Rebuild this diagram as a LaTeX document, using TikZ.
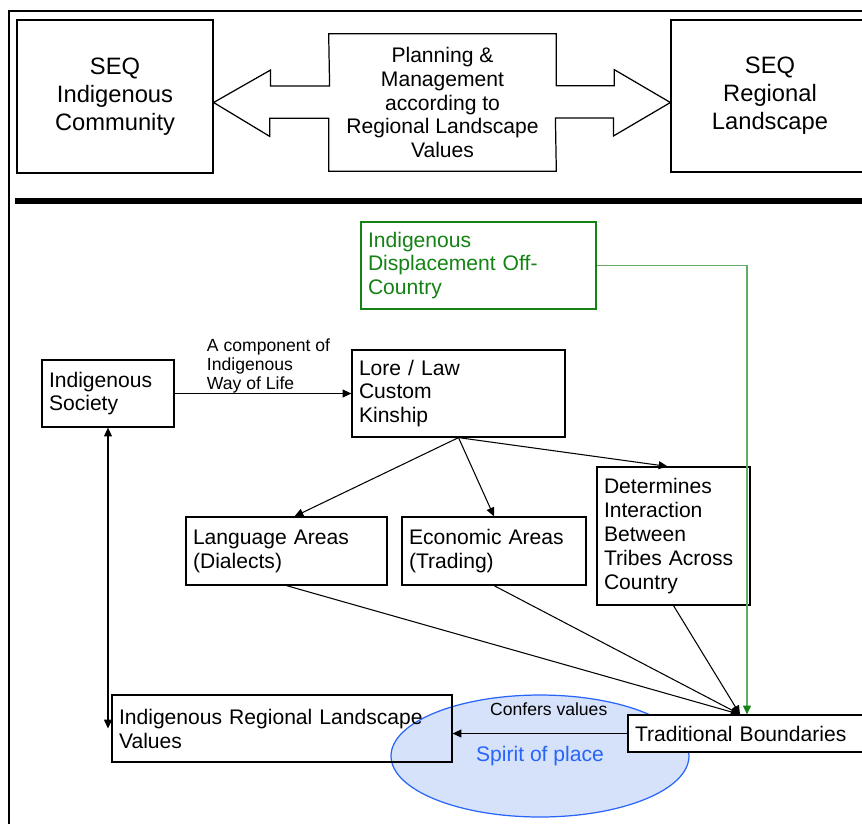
\documentclass[tikz,border=0pt]{standalone}
\usepackage{fontspec}
\setmainfont{Liberation Sans}
\usetikzlibrary{arrows.meta,positioning,calc,shapes.geometric}
\definecolor{dispgreen}{RGB}{20,130,20}
\definecolor{linegreen}{RGB}{100,170,100}
\definecolor{spiritblue}{RGB}{40,100,250}
\definecolor{spiritfill}{RGB}{214,226,250}

\begin{document}
\begin{tikzpicture}[x=0.02cm,y=-0.02cm,
   bigbox/.style={draw,line width=0.7pt,align=center,font=\fontsize{13.5}{15.9}\selectfont},
   box/.style={draw,line width=0.7pt,align=left,inner xsep=4pt,font=\fontsize{12}{13.6}\selectfont},
   lbl/.style={inner sep=0pt,align=left,font=\fontsize{10}{10.8}\selectfont},
   arr/.style={-{Triangle[length=5pt,width=4.5pt]},line width=0.6pt}]
  \useasboundingbox (0,0) rectangle (862,823);
  \clip (0,0) rectangle (862,823);
  % frame and divider
  \draw[line width=1.3pt] (9,830) -- (9,11) -- (870,11);
  \draw[line width=3.4pt] (15,201) -- (870,201);

  % top row
  \node[bigbox,minimum width=3.92cm,minimum height=3.06cm] (ic) at (115,96.5) {SEQ\\Indigenous\\Community};
  \node[bigbox,minimum width=3.96cm,minimum height=3.04cm] (rl) at (770,96) {SEQ\\Regional\\Landscape};
  \node[align=center,font=\fontsize{12}{13.6}\selectfont,minimum width=4.54cm,minimum height=2.74cm] (pm) at (442.5,102.5)
     {Planning \&\\Management\\according to\\Regional Landscape\\Values};
  \draw[line width=0.7pt] (pm.north west) -- (pm.north east) -- ++(0,52) -- ++(58,0) -- ++(0,-16)
     -- (rl.west |- pm.center) -- ++(-57,33.5) -- ++(0,-18) -- ++(-58,0) -- (pm.south east)
     -- (pm.south west) -- ++(0,-53) -- ++(-59,0) -- ++(0,18) -- (ic.east |- pm.center)
     -- ++(57,-32.5) -- ++(0,16) -- ++(59,0) -- cycle;

  % lower part
  \node[ellipse,draw=spiritblue,fill=spiritfill,line width=0.7pt,text=spiritblue,
     minimum width=5.96cm,minimum height=2.44cm,font=\fontsize{12}{13.6}\selectfont] (sp) at (540,756) {Spirit of place};
  \node[box,draw=dispgreen,text=dispgreen,text width=4.42cm,minimum height=1.74cm] (disp) at (478.5,265.5)
     {Indigenous\\Displacement Off-\\Country};
  \node[box,text width=2.36cm,minimum height=1.34cm] (soc) at (108,393.5) {Indigenous\\Society};
  \node[box,text width=3.98cm,minimum height=1.74cm] (lore) at (458.5,393.5) {Lore / Law\\Custom\\Kinship};
  \node[box,text width=3.74cm,minimum height=1.36cm] (lang) at (286.5,551) {Language Areas\\(Dialects)};
  \node[box,text width=3.4cm,minimum height=1.36cm] (econ) at (494,551) {Economic Areas\\(Trading)};
  \node[box,text width=2.78cm,minimum height=2.76cm] (det) at (673.5,536)
     {Determines\\Interaction\\Between\\Tribes Across\\Country};
  \node[box,text width=6.52cm,minimum height=1.34cm] (irlv) at (282,728.5) {Indigenous Regional Landscape\\Values};
  \node[box,fill=white,text width=4.48cm,minimum height=0.74cm] (trad) at (747,733.5) {Traditional Boundaries};
  \node[lbl,anchor=west] (comp) at ($(soc.east)+(32,-28)$) {A component of\\Indigenous\\Way of Life};
  \coordinate (tb) at ($(trad.north)+(-7,0)$);

  \draw[arr] (soc.east) -- (lore.west);
  \draw[arr] (lore.south) -- ($(lang.north)+(8,0)$);
  \draw[arr] (lore.south) -- (econ.north);
  \draw[arr] (lore.south) -- ($(det.north)+(-6,0)$);
  \draw[arr] (lang.south) -- (tb);
  \draw[arr] (econ.south) -- (tb);
  \draw[arr] (det.south) -- (tb);
  \draw[-{Triangle[length=5pt,width=4.5pt,color=dispgreen]},linegreen,line width=0.8pt] (disp.east) -| (trad.north);
  \draw[{Triangle[length=5pt,width=4.5pt]}-{Triangle[length=5pt,width=4.5pt]},line width=0.6pt]
     (soc.south) -- (soc.south |- irlv.west);
  \draw[arr] (trad.west) -- node[lbl,pos=0.45,above=10pt] (conf) {Confers values} (irlv.east |- trad.west);
\end{tikzpicture}
\end{document}
